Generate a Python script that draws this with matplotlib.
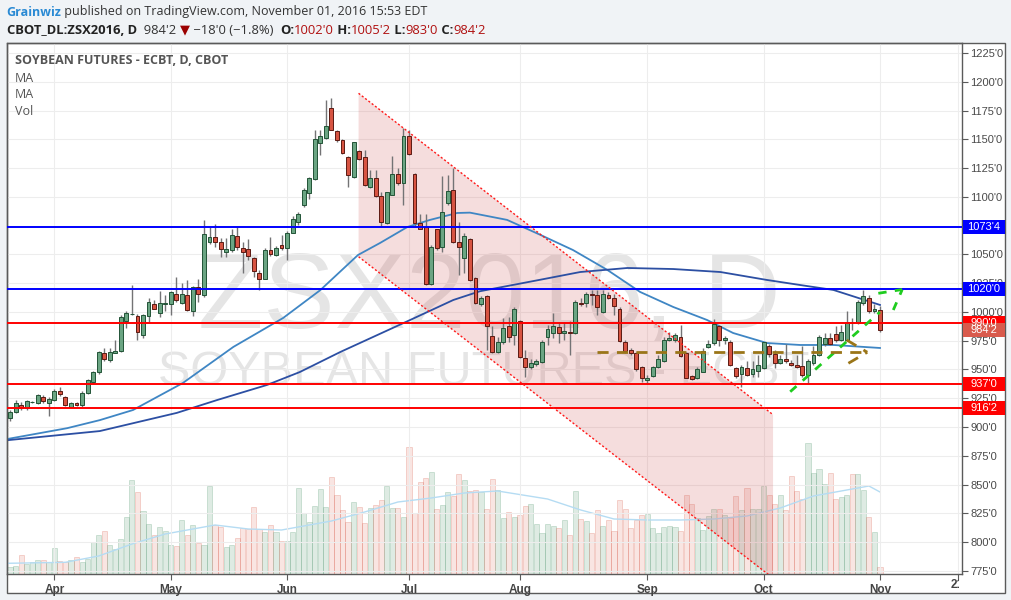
import numpy as np
import pandas as pd
import matplotlib
matplotlib.use('Agg')
import matplotlib.pyplot as plt
import matplotlib.transforms as mtransforms
from matplotlib.patches import Rectangle, Polygon

W, H = 1012, 600

# trading days of the ZSX2016 daily chart
days = pd.bdate_range('2016-03-21', '2016-11-01')
holidays = pd.to_datetime(['2016-03-25', '2016-05-30', '2016-07-04', '2016-09-05'])
days = days[~days.isin(holidays)]

opens = [907.5, 913, 919, 916.5, 921.5, 920.5, 926, 920.5, 923.5, 931.5,
         926.5, 917.5, 921, 919, 929.5, 939, 947.5, 964.5, 958.5, 964.5,
         966.5, 992.5, 998, 996.5, 980, 996.5, 1007, 999.5, 1006.5, 1007,
         1016, 1008, 1014.5, 1001, 1022, 1014.5, 1061, 1065, 1061, 1052,
         1053.5, 1066, 1056, 1054.5, 1046.5, 1033.5, 1029, 1054, 1049.5, 1058,
         1055.5, 1069, 1078.5, 1092.5, 1103, 1115.5, 1146.5, 1151, 1177, 1157,
         1149.5, 1135, 1117, 1140, 1134.5, 1108.5, 1116, 1101, 1077.5, 1102,
         1119.5, 1112, 1153, 1119.5, 1077.5, 1074, 1024.5, 1072, 1056.5, 1094.5,
         1106, 1061, 1046.5, 1063, 1029.5, 1006.5, 1014, 979, 965.5, 974,
         987.5, 980, 992.5, 960, 952.5, 955, 956.5, 978.5, 982, 987,
         981.5, 982.5, 981.5, 1008, 1008, 1015.5, 1015, 1000, 1015, 1012.5,
         1003, 973.5, 967, 964, 952, 941, 944.5, 952, 957.5, 975.5,
         976, 978, 964.5, 944, 942.5, 948, 969.5, 973, 987.5, 975.5,
         974, 951, 946, 951, 946.5, 949, 951, 970, 963.5, 956,
         959, 955.5, 954, 953, 945.5, 955.5, 962.5, 972, 977, 980.5,
         975.5, 975.5, 991, 990, 1008, 1012, 1000.5, 1002]
highs = [915, 923.5, 922, 923.5, 922.5, 929, 928, 926.5, 933, 935,
         927, 922, 922, 931.5, 941.5, 949, 966.5, 968.5, 969, 975.5,
         997.5, 1000.5, 1023, 998, 998, 1012.5, 1010, 1018.5, 1014.5, 1018.5,
         1030, 1025, 1028, 1022.5, 1029, 1080, 1074, 1076.5, 1064, 1064,
         1072, 1074, 1061, 1063, 1047.5, 1036.5, 1055.5, 1065.5, 1057, 1067,
         1070, 1083, 1087, 1107.5, 1117.5, 1158.5, 1158.5, 1184, 1185.5, 1158,
         1150, 1135.5, 1148, 1140.5, 1140.5, 1123.5, 1123.5, 1104.5, 1104.5, 1135.5,
         1125, 1160, 1158, 1120.5, 1085.5, 1085.5, 1058, 1072.5, 1118.5, 1119,
         1125, 1078.5, 1068.5, 1064, 1030.5, 1013.5, 1015, 987.5, 978.5, 994.5,
         996, 1004.5, 993, 967, 959.5, 959, 975.5, 988.5, 999, 991.5,
         991.5, 992.5, 1010.5, 1012, 1017.5, 1019, 1019, 1019.5, 1017.5, 1016,
         1004.5, 975.5, 968.5, 965.5, 953, 945, 953, 962.5, 978.5, 983,
         982, 988.5, 965.5, 945, 952.5, 968.5, 975.5, 993.5, 988.5, 979,
         975.5, 952, 954, 957, 957, 962.5, 974, 972, 967, 962.5,
         972, 958, 962.5, 970, 959.5, 970, 980, 982, 982, 988,
         988.5, 1000.5, 994.5, 1010.5, 1019.5, 1015, 1007, 1005.25]
lows = [905.5, 912, 915, 914.5, 921, 920, 921, 910, 923, 927,
        918, 916.5, 918.5, 917.5, 928.5, 938, 946.5, 957, 956.5, 964,
        965.5, 986, 997.5, 976, 977, 991.5, 1002.5, 996, 1000.5, 997.5,
        1009, 1007, 1001, 996.5, 1009, 1013, 1059, 1056.5, 1047.5, 1048,
        1052.5, 1054, 1033.5, 1045, 1030.5, 1019, 1028.5, 1048.5, 1048.5, 1054,
        1045.5, 1068.5, 1075.5, 1091.5, 1098.5, 1114.5, 1136.5, 1150, 1158, 1148,
        1137, 1108.5, 1116, 1132, 1109.5, 1107.5, 1100, 1074, 1076.5, 1101.5,
        1110.5, 1093, 1136.5, 1074, 1072, 1023.5, 1023.5, 1054, 1052.5, 1093,
        1059.5, 1032.5, 1033.5, 1026.5, 1007, 1005, 967, 964, 964, 972,
        973.5, 971.5, 960, 943.5, 950, 953, 955.5, 971.5, 977, 973,
        975.5, 962.5, 981, 1005, 1004.5, 1006, 997.5, 999.5, 1011.5, 997.5,
        974, 964, 962.5, 949, 939.5, 937.5, 943.5, 951, 956.5, 975,
        974, 961, 942.5, 941, 941.5, 947.5, 968.5, 971.5, 970, 972.5,
        953, 943, 934.5, 944, 943.5, 943.5, 950, 961, 951, 954.5,
        955.5, 953, 951.5, 943.5, 937.5, 954, 962, 970.5, 971, 974,
        974.5, 975, 984.5, 989.5, 1006, 999, 999.5, 983]
closes = [913, 921, 916.5, 922.5, 922, 928, 922.5, 924, 931.5, 928.5,
          919, 921, 919, 930, 940.5, 947.5, 965.5, 959, 965.5, 966.5,
          996, 999.5, 998.5, 982.5, 997, 1008.5, 1003, 1008, 1007.5, 1017,
          1010.5, 1015.5, 1001.5, 1021.5, 1015.5, 1067.5, 1065.5, 1060.5, 1054.5, 1054.5,
          1067, 1056.5, 1052.5, 1049, 1036, 1029, 1054, 1050, 1056, 1055.5,
          1068.5, 1081, 1085, 1106, 1116, 1150, 1153, 1162, 1158.5, 1149.5,
          1138, 1119, 1147.5, 1133, 1110.5, 1116, 1101, 1078.5, 1104, 1119.5,
          1112, 1153, 1137, 1077, 1072.5, 1024.5, 1056.5, 1055.5, 1086.5, 1105,
          1061, 1056.5, 1066, 1028, 1008, 1012, 987.5, 965.5, 973.5, 986,
          978.5, 1002.5, 961, 952.5, 955.5, 957, 974, 985, 988, 981.5,
          983.5, 981.5, 1009, 1006.5, 1015.5, 1014.5, 1004, 1015.5, 1012.5, 1005,
          975, 966.5, 964, 950, 942.5, 943, 952, 959.5, 975.5, 977.5,
          980, 962, 943, 942, 950.5, 966.5, 972, 989.5, 975.5, 977,
          954, 944.5, 952, 945.5, 950, 954, 973.5, 963.5, 956, 959,
          957, 954, 952.5, 945.5, 957, 962.5, 978, 977, 972, 975.5,
          982.5, 991.5, 990, 1009, 1014, 1000.5, 1002.25, 984.25]
volume = [7, 8, 19, 10, 12, 14, 14, 12, 26, 13,
          12, 14, 17, 12, 15, 32, 39, 43, 29, 25,
          35, 57, 94, 82, 63, 50, 39, 47, 43, 29,
          28, 54, 39, 49, 31, 29, 88, 49, 47, 27,
          29, 36, 46, 45, 67, 45, 42, 49, 42, 33,
          33, 42, 86, 61, 52, 68, 85, 67, 97, 79,
          64, 52, 72, 67, 51, 66, 69, 74, 88, 66,
          66, 57, 127, 61, 92, 96, 102, 65, 69, 82,
          78, 100, 94, 83, 84, 82, 65, 95, 84, 56,
          62, 57, 59, 68, 70, 50, 41, 50, 48, 46,
          54, 39, 83, 55, 53, 41, 64, 48, 54, 43,
          74, 65, 46, 54, 59, 60, 46, 41, 47, 48,
          47, 43, 79, 70, 56, 44, 58, 65, 65, 59,
          56, 78, 64, 86, 65, 65, 88, 79, 70, 79,
          64, 98, 83, 75, 131, 101, 105, 90, 101, 75,
          77, 79, 100, 100, 84, 57, 42, 7]

# moving averages (bar index, price)
ma1_idx = [-0.6, 10.3, 16.2, 22.2, 31.2, 40.3, 49.3, 56, 62.8, 66.8, 71.7, 75.8, 80.7,
           83, 89.7, 95.7, 101.6, 107.8, 113.7, 119.7, 125.8, 130.5, 136.6, 142.6, 148.6, 157]
ma1_val = [889.5, 899, 906, 914.8, 938.3, 969.6, 994.8, 1019, 1049.5, 1060, 1073.8, 1080, 1086,
           1086.3, 1080, 1067, 1053.8, 1036.5, 1017.4, 1004.3, 993, 981.7, 973, 971.3, 971.3, 968.7]
ma2_idx = [-0.6, 16.2, 30.1, 37.4, 46.4, 52.3, 59.6, 72.2, 80, 84.8, 95.7, 102.9, 111.4,
           119.7, 128.2, 136.6, 142.6, 148.6, 157]
ma2_val = [888.5, 896.5, 912.3, 923.5, 936.6, 947.8, 965.2, 993, 1010.4, 1018, 1028, 1034.7, 1038.2,
           1037.3, 1034.7, 1027.8, 1023.4, 1019.1, 1006.1]
vma_idx = [-0.5, 10, 16, 22, 28, 34, 37, 43, 49, 52, 58, 64, 70, 76, 82, 88,
           97, 103, 109, 115, 121, 127, 133, 139, 145, 151, 155, 157]
vma_val = [10.7, 11.7, 18, 30, 40, 46, 49, 45, 44, 47, 53, 62, 72, 76, 81, 83,
           75, 64, 55, 54, 54, 55, 58, 66, 78, 84, 88, 82]

# horizontal levels
levels = [1073.5, 1020, 990, 937, 916.25]
level_text = ["1073'4", "1020'0", "990'0", "937'0", "916'2"]
level_color = ['#0000ff', '#0000ff', '#ff0000', '#ff0000', '#ff0000']

# drawn channel and arrows (bar index, price)
chan_top = [(62.9, 1190), (137.7, 910.7)]
chan_bot = [(62.9, 1048), (137.7, 768.7)]
green_lines = [[(140.8, 930.7), (157, 1000)],
               [(159.4, 1001.7), (161, 1019.3)],
               [(156.7, 1016.2), (161, 1019.5)]]
brown_lines = [[(106, 965.5), (154.7, 965.5)],
               [(151, 975.6), (154.7, 965)],
               [(151.3, 955.4), (154.7, 965)]]

n = len(days)
assert n == len(opens) == len(highs) == len(lows) == len(closes) == len(volume)
x = np.arange(n)
o, hi, lo, c = map(np.array, (opens, highs, lows, closes))
up = c >= o

month_idx = [i for i in range(1, n) if days[i].month != days[i - 1].month]
month_lbl = [days[i].strftime('%b') for i in month_idx]

fig = plt.figure(figsize=(W / 100, H / 100), dpi=100, facecolor='#f0f3f6')
frame = Rectangle((6.7 / W, 7 / H), (1005 - 6.7) / W, (593 - 43) / H, transform=fig.transFigure,
                  facecolor='white', edgecolor='#5a5a5a', lw=1.0, zorder=-5)
fig.patches.append(frame)

ax = fig.add_axes([6.7 / W, 26 / H, (962 - 6.7) / W, 531 / H])
vol = ax.twinx()
vol.set_zorder(-1)
ax.patch.set_visible(False)
vol.patch.set_visible(False)

ax.set_xlim(-0.6, 171.8)
ax.set_ylim(772.3, 1233.7)
vol.set_ylim(0, 531)
vol.set_yticks([])
for s in vol.spines.values():
    s.set_visible(False)

# watermark
wm = dict(transform=vol.transAxes, ha='center', va='baseline', color='#8a8a8a', alpha=0.22,
          family='Liberation Sans', zorder=0)
vol.text(0.505, 0.463, 'ZSX2016, D', fontsize=77, **wm)
vol.text(0.499, 0.356, 'SOYBEAN FUTURES - ECBT', fontsize=35, **wm)

# volume
vcol = np.where(up, '#6ba583', '#d75442')
vfa = np.where(up, 0.22, 0.15)
vol.bar(x, volume, width=0.92, color=[matplotlib.colors.to_rgba(v, a) for v, a in zip(vcol, vfa)],
        edgecolor=[matplotlib.colors.to_rgba(v, a + 0.12) for v, a in zip(vcol, vfa)], lw=0.6, zorder=1)
vol.plot(vma_idx, vma_val, color='#b5dcf3', lw=1, zorder=2)

# grid
ax.set_axisbelow(True)
ax.grid(color='#ededed', lw=0.8)

# channel
poly = Polygon([chan_top[0], chan_top[1], chan_bot[1], chan_bot[0]], closed=True,
               facecolor='#cc4444', alpha=0.18, edgecolor='none', zorder=1)
ax.add_patch(poly)
for seg in (chan_top, chan_bot):
    ax.plot([p[0] for p in seg], [p[1] for p in seg], color='#ff1a1a', lw=1,
            dashes=(1.5, 1.5), zorder=5)

# moving averages
ax.plot(ma1_idx, ma1_val, color='#3f86c4', lw=1.3, zorder=2)
ax.plot(ma2_idx, ma2_val, color='#2c4fa3', lw=1.3, zorder=2)

# candles
ax.vlines(x, lo, hi, color='#737375', lw=1, zorder=3)
body = np.maximum(np.abs(c - o), 0.6)
ax.bar(x, body, bottom=np.minimum(o, c), width=0.7, zorder=3.5,
       color=np.where(up, '#6ba583', '#d75442'),
       edgecolor=np.where(up, '#225437', '#5b1a13'), lw=0.7)

# levels
for lv, col in zip(levels, level_color):
    ax.axhline(lv, color=col, lw=1.4, zorder=4)

for seg in green_lines:
    ax.plot([p[0] for p in seg], [p[1] for p in seg], color='#1fcc1f', lw=2,
            dashes=(3, 3), zorder=6, solid_capstyle='butt')
for seg in brown_lines:
    ax.plot([p[0] for p in seg], [p[1] for p in seg], color='#9a7518', lw=2,
            dashes=(4, 3), zorder=6)

# axes styling
for s in ax.spines.values():
    s.set_color('#5a5a5a')
    s.set_linewidth(1.0)
ax.yaxis.tick_right()
yt = np.arange(775, 1226, 25)
ax.set_yticks(yt)
# 1075'0 sits fully under the 1073'4 tag
ax.set_yticklabels(['' if v == 1075 else f"{v}'0" for v in yt], family='Liberation Sans')
ax.tick_params(axis='y', length=4, width=0.8, colors='#5a5a5a', labelsize=8, labelcolor='#4a4a4a', pad=2)
ax.set_xticks(month_idx + [171])
ax.set_xticklabels(month_lbl + [''], family='Liberation Sans', fontweight='bold')
ax.tick_params(axis='x', length=4, width=0.8, colors='#5a5a5a', labelsize=8.5, labelcolor='#444444', pad=3)
t21 = fig.text(957 / W, 1 - 585 / H, '21', ha='center', va='center', fontsize=8.5,
               fontweight='bold', color='#444444', family='Liberation Sans')
t21.set_clip_path(Rectangle((0, 0), 959 / W, 1, transform=fig.transFigure))

# right side price labels
bt = mtransforms.blended_transform_factory(ax.transAxes, ax.transData)
bw = 42 / 955.3
bh = 14 / 1.151


def price_tag(price, text, color):
    ax.add_patch(Rectangle((1.0008, price - bh / 2), bw, bh, transform=bt, facecolor=color,
                           edgecolor='none', clip_on=False, zorder=8))
    ax.text(1.0008 + bw / 2, price, text, transform=bt, ha='center', va='center', color='white',
            fontsize=8, family='Liberation Sans', clip_on=False, zorder=9)


for lv, txt, col in zip(levels, level_text, level_color):
    price_tag(lv, txt, col)
price_tag(closes[-1], "984'2", '#d95b4d')

# header text
renderer = fig.canvas.get_renderer()
FAM = ['Open Sans', 'DejaVu Sans']


def put_row(x0, y0, parts, size):
    xx = x0
    for s, col, wt in parts:
        t = fig.text(xx / W, 1 - y0 / H, s, color=col, fontweight=wt, fontsize=size,
                     va='center', ha='left', family=FAM)
        xx += t.get_window_extent(renderer).width


put_row(6, 12, [('Grainwiz', '#2a8ad4', 'bold'),
                (' published on TradingView.com, November 01, 2016 15:53 EDT', '#333333', 'normal')], 9)
put_row(7, 30, [('CBOT_DL:ZSX2016, D', '#222222', 'bold'),
                ("  984'2 ", '#333333', 'normal'),
                ('\u25bc', '#9b0000', 'normal'),
                (" \u221218'0 (\u22121.8%)  ", '#333333', 'normal'),
                ('O:', '#222222', 'bold'), ("1002'0", '#b01010', 'normal'),
                (' H:', '#222222', 'bold'), ("1005'2", '#b01010', 'normal'),
                (' L:', '#222222', 'bold'), ("983'0", '#b01010', 'normal'),
                (' C:', '#222222', 'bold'), ("984'2", '#b01010', 'normal')], 9.4)

# pane legend
fig.text(15 / W, 1 - 61 / H, 'SOYBEAN FUTURES - ECBT, D, CBOT', color='#555555', fontweight='bold',
         fontsize=9, va='center', family=FAM)
for yy, s in ((78, 'MA'), (95, 'MA'), (111, 'Vol')):
    fig.text(15 / W, 1 - yy / H, s, color='#555555', fontsize=9, va='center', family=FAM)

fig.savefig('out.png', dpi=100, facecolor=fig.get_facecolor())
